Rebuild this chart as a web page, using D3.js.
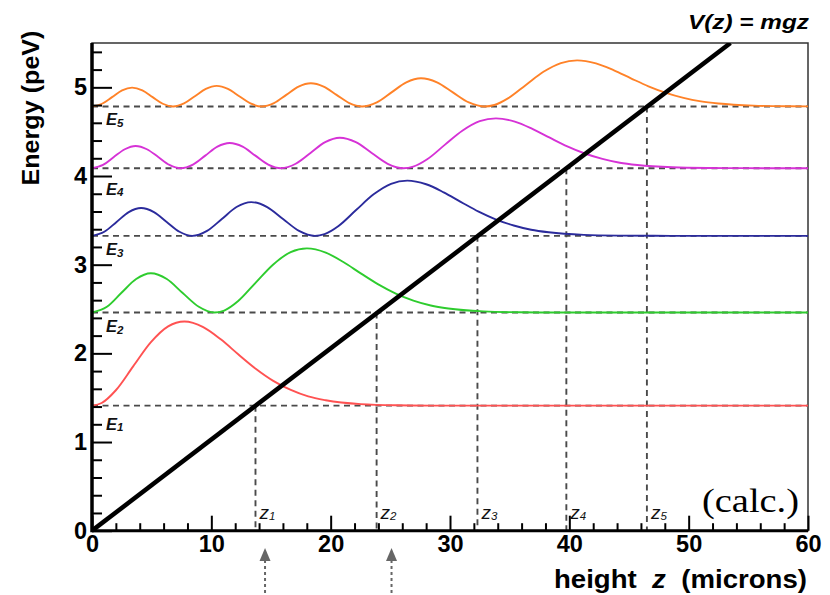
<!DOCTYPE html>
<html><head><meta charset="utf-8">
<script src="https://cdn.jsdelivr.net/npm/d3@7"></script>
<style>body{margin:0;background:#fff}svg{display:block}</style>
</head><body>
<svg id="c" width="830" height="595"></svg>
<script>
// ---- data ----
const levels = [1.41, 2.46, 3.325, 4.088, 4.784];          // E1..E5 (peV)
const turnZ  = [13.7, 23.85, 32.3, 39.75, 46.5];            // z1..z5 (microns)
const levelNames = ["1","2","3","4","5"];
const labelE = [1.136, 2.24, 3.109, 3.786, 4.575];          // label heights (peV)
const potZ = [0, 53.5];
const potV = [0, 5.5];
const arrowZ = [14.5, 25.1];
const xTicks = [0,10,20,30,40,50,60];
const yTicks = [0,1,2,3,4,5];
const psi1 = [[0,0],[0.81,0.03],[1.98,0.171],[3.45,0.443],[4.92,0.713],[6.38,0.894],[7.74,0.949],[9.32,0.886],[10.79,0.748],[12.25,0.58],[13.72,0.417],[15.19,0.28],[16.66,0.177],[18.12,0.104],[19.59,0.061],[22.53,0.017],[25.46,0.004],[28.4,0.001],[32,0],[60,0]];
const psi2 = [[0,0],[1.25,0.065],[2.45,0.22],[3.7,0.378],[4.93,0.443],[6.27,0.378],[7.6,0.22],[8.95,0.065],[10.27,0],[11.08,0.023],[12.25,0.13],[13.72,0.338],[15.19,0.543],[16.65,0.682],[18.01,0.7235],[19.59,0.676],[21.06,0.57],[22.52,0.442],[23.99,0.318],[25.46,0.214],[26.93,0.135],[28.39,0.08],[29.86,0.046],[32.8,0.013],[35.73,0.003],[38.67,0.0007],[42,0],[60,0]];
const psi3 = [[0,0],[1.03,0.046],[2.06,0.157],[3.08,0.268],[4.11,0.314],[5.19,0.268],[6.26,0.157],[7.33,0.046],[8.41,0],[9.64,0.056],[10.88,0.19],[12.11,0.325],[13.34,0.381],[14.68,0.325],[16.01,0.19],[17.35,0.056],[18.68,0],[19.49,0.02],[20.66,0.112],[22.13,0.291],[23.6,0.468],[25.06,0.587],[26.42,0.623],[28.0,0.582],[29.47,0.491],[30.93,0.381],[32.4,0.273],[33.87,0.184],[35.34,0.117],[36.8,0.069],[38.27,0.04],[41.21,0.011],[44.14,0.0026],[47.08,0.0006],[50,0],[60,0]];
const psi4 = [[0,0],[0.92,0.037],[1.83,0.126],[2.75,0.214],[3.66,0.251],[4.6,0.214],[5.55,0.126],[6.49,0.037],[7.43,0],[8.46,0.041],[9.49,0.142],[10.51,0.243],[11.54,0.284],[12.62,0.243],[13.69,0.142],[14.77,0.041],[15.84,0],[17.07,0.05],[18.31,0.172],[19.54,0.294],[20.77,0.344],[22.11,0.294],[23.44,0.172],[24.78,0.05],[26.11,0],[26.92,0.018],[28.09,0.101],[29.56,0.263],[31.03,0.422],[32.49,0.53],[33.85,0.5625],[35.43,0.525],[36.9,0.443],[38.36,0.344],[39.83,0.247],[41.3,0.166],[42.77,0.105],[44.23,0.062],[45.7,0.036],[48.64,0.01],[51.57,0.0024],[54.51,0.0005],[58,0],[60,0]];
const psi5 = [[0,0],[0.84,0.031],[1.68,0.106],[2.52,0.182],[3.36,0.213],[4.22,0.182],[5.08,0.106],[5.93,0.031],[6.79,0],[7.71,0.034],[8.62,0.116],[9.54,0.198],[10.45,0.232],[11.39,0.198],[12.34,0.116],[13.28,0.034],[14.22,0],[15.25,0.038],[16.28,0.131],[17.31,0.224],[18.34,0.262],[19.41,0.224],[20.49,0.131],[21.56,0.038],[22.63,0],[23.87,0.046],[25.1,0.159],[26.34,0.272],[27.57,0.318],[28.91,0.272],[30.24,0.159],[31.58,0.046],[32.91,0],[33.72,0.017],[34.89,0.094],[36.36,0.243],[37.83,0.391],[39.29,0.49],[40.65,0.52],[42.23,0.486],[43.7,0.41],[45.16,0.318],[46.63,0.228],[48.1,0.154],[49.57,0.097],[51.03,0.057],[52.5,0.033],[55.44,0.0093],[58.37,0.0022],[60,0.001]];
const densities = [psi1, psi2, psi3, psi4, psi5];
const colors = ["#ff5252", "#2ecc2e", "#2b2b9c", "#d632d6", "#ff8228"];

// ---- drawing ----
const svg = d3.select("#c");
const x = d3.scaleLinear().domain([0,60]).range([92,808]);
const y = d3.scaleLinear().domain([0,5.5]).range([530.7,43]);
const SANS = "'Liberation Sans', Arial, Helvetica, sans-serif";

svg.append("defs").append("clipPath").attr("id","clip")
  .append("rect").attr("x",x(0)).attr("y",y(5.5)).attr("width",x(60)-x(0)).attr("height",y(0)-y(5.5));

// frame (top/right thin)
svg.append("rect").attr("x",x(0)).attr("y",y(5.5)).attr("width",x(60)-x(0)).attr("height",y(0)-y(5.5))
  .attr("fill","none").attr("stroke","#333").attr("stroke-width",1.5);

const plot = svg.append("g").attr("clip-path","url(#clip)");

// dashed level lines
plot.selectAll(".lev").data(levels).join("line")
  .attr("x1",x(0)).attr("x2",x(60)).attr("y1",d=>y(d)).attr("y2",d=>y(d))
  .attr("stroke","#4a4a4a").attr("stroke-width",1.9).attr("stroke-dasharray","6,4.5");
// dashed turning point lines
plot.selectAll(".tp").data(turnZ).join("line")
  .attr("x1",d=>x(d)).attr("x2",d=>x(d)).attr("y1",(d,i)=>y(levels[i])).attr("y2",y(0))
  .attr("stroke","#4a4a4a").attr("stroke-width",1.9).attr("stroke-dasharray","6,4.5");

// density curves
densities.forEach((pts,i)=>{
  const line = d3.line().x(d=>x(d[0])).y(d=>y(levels[i]+d[1])).curve(d3.curveMonotoneX);
  plot.append("path").attr("d",line(pts)).attr("fill","none")
    .attr("stroke",colors[i]).attr("stroke-width",1.9);
});

// potential line
plot.append("line").attr("x1",x(potZ[0])).attr("y1",y(potV[0])).attr("x2",x(potZ[1])).attr("y2",y(potV[1]))
  .attr("stroke","#000").attr("stroke-width",4.5);

// axes
const xMajor = d3.axisBottom(x).tickValues(xTicks).tickSizeInner(-15).tickSizeOuter(0).tickPadding(5).tickFormat(d3.format("d"));
const xMinor = d3.axisBottom(x).tickValues(d3.range(0,61,2).filter(v=>v%10)).tickSizeInner(-7.5).tickSizeOuter(0).tickFormat("");
const yMajor = d3.axisLeft(y).tickValues(yTicks).tickSizeInner(-20).tickSizeOuter(0).tickPadding(5).tickFormat(d3.format("d"));
const yMinor = d3.axisLeft(y).tickValues(d3.range(0,5.45,0.2).filter(v=>Math.abs(v-Math.round(v))>0.01)).tickSizeInner(-10).tickSizeOuter(0).tickFormat("");

function styleAxis(g){
  g.select(".domain").remove();
  g.selectAll(".tick line").attr("stroke","#000").attr("stroke-width",2);
  g.selectAll("text").attr("font-family",SANS).attr("font-weight","bold").attr("font-size",23.5).attr("fill","#000");
}
svg.append("g").attr("transform",`translate(0,${y(0)})`).call(xMinor).call(styleAxis);
svg.append("g").attr("transform",`translate(0,${y(0)})`).call(xMajor).call(styleAxis);
svg.append("g").attr("transform",`translate(${x(0)},0)`).call(yMinor).call(styleAxis);
svg.append("g").attr("transform",`translate(${x(0)},0)`).call(yMajor).call(styleAxis);

// thick axis lines
svg.append("line").attr("x1",x(0)).attr("x2",x(60)).attr("y1",y(0)).attr("y2",y(0)).attr("stroke","#000").attr("stroke-width",3);
svg.append("line").attr("x1",x(0)).attr("x2",x(0)).attr("y1",y(0)+1.5).attr("y2",y(5.5)).attr("stroke","#000").attr("stroke-width",3.5);

// E labels
levels.forEach((e,i)=>{
  const t = svg.append("text").attr("x",x(0)+14).attr("y",y(labelE[i]))
    .attr("font-family",SANS).attr("font-style","italic").attr("font-weight","bold").attr("font-size",16.5).attr("fill","#111");
  t.append("tspan").text("E");
  t.append("tspan").attr("font-size",11.5).attr("dy",1.5).text(levelNames[i]);
});
// z labels
turnZ.forEach((z,i)=>{
  const t = svg.append("text").attr("x",x(z)+4).attr("y",y(0)-11.5)
    .attr("font-family",SANS).attr("font-style","italic").attr("font-size",19).attr("fill","#111");
  t.append("tspan").text("z");
  t.append("tspan").attr("font-size",11.5).attr("dy",0.5).text(levelNames[i]);
});

// arrows
arrowZ.forEach(z=>{
  const ax = x(z);
  svg.append("line").attr("x1",ax).attr("x2",ax).attr("y1",560).attr("y2",595)
    .attr("stroke","#666").attr("stroke-width",2).attr("stroke-dasharray","3,3");
  svg.append("path").attr("d",`M${ax},548 L${ax-5.5},561 L${ax+5.5},561 Z`).attr("fill","#666");
});

// title
svg.append("text").attr("x",688).attr("y",29).attr("textLength",121).attr("lengthAdjust","spacingAndGlyphs")
  .attr("font-family",SANS).attr("font-weight","bold").attr("font-style","italic").attr("font-size",21).text("V(z) = mgz");
// (calc.)
svg.append("text").attr("x",702).attr("y",512).attr("textLength",97).attr("lengthAdjust","spacingAndGlyphs")
  .attr("font-family","'Liberation Serif', 'Times New Roman', serif").attr("font-size",34).text("(calc.)");
// x title
const xt = svg.append("text").attr("x",554).attr("y",588).attr("font-family",SANS).attr("font-weight","bold").attr("font-size",26)
  .style("white-space","pre").attr("textLength",253).attr("lengthAdjust","spacingAndGlyphs");
xt.append("tspan").text("height  ");
xt.append("tspan").attr("font-style","italic").text("z");
xt.append("tspan").text("  (microns)");
// y title
svg.append("text").attr("transform","translate(39,108) rotate(-90)").attr("text-anchor","middle")
  .attr("font-family",SANS).attr("font-weight","bold").attr("font-size",23)
  .attr("textLength",155).attr("lengthAdjust","spacingAndGlyphs").text("Energy (peV)");
</script>
</body></html>
